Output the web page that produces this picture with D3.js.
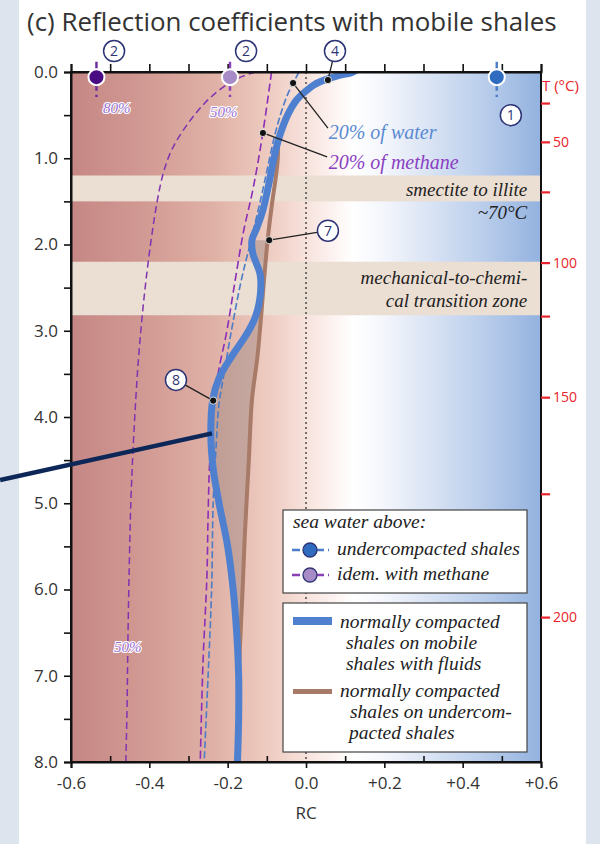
<!DOCTYPE html>
<html>
<head>
<meta charset="utf-8">
<script src="https://cdn.jsdelivr.net/npm/d3@7"></script>
<style>
  body { margin: 0; background: #fff; }
  .sans { font-family: "Open Sans", sans-serif; }
  .ital { font-family: "Liberation Serif", serif; font-style: italic; }
</style>
</head>
<body>
<div id="chart"></div>
<script>
// depth (km) / reflection coefficient
const blueDepth = [-0.1, 0, 0.04, 0.08, 0.15, 0.22, 0.33, 0.5, 0.75, 1.0, 1.3, 1.6, 1.8, 1.95, 2.1, 2.35, 2.6, 2.85, 3.05, 3.3, 3.55, 3.8, 4.2, 4.6, 5.0, 5.5, 6.0, 6.5, 7.0, 7.5, 8.0]
const blueRC = [0.15, 0.12, 0.085, 0.055, 0.02, 0.0, -0.025, -0.047, -0.068, -0.082, -0.095, -0.11, -0.125, -0.138, -0.136, -0.117, -0.117, -0.13, -0.153, -0.19, -0.222, -0.238, -0.243, -0.237, -0.222, -0.2, -0.186, -0.177, -0.172, -0.172, -0.175]

const brownDepth = [0.8, 1.0, 1.25, 1.5, 1.95, 2.4, 2.8, 3.3, 3.8, 4.5, 5.35, 5.9, 6.5, 6.9]
const brownRC = [-0.072, -0.072, -0.078, -0.086, -0.098, -0.107, -0.114, -0.124, -0.138, -0.146, -0.156, -0.161, -0.167, -0.171]

// undercompacted shales, sea water above (20% of water)
const waterDepth = [0, 0.13, 0.25, 0.45, 0.7, 1.0, 1.3, 1.6, 2.0, 2.41, 2.99, 3.57, 3.84, 4.38, 5.0, 6.0, 7.0, 8.0]
const waterRC = [-0.018, -0.033, -0.046, -0.062, -0.078, -0.093, -0.107, -0.122, -0.143, -0.165, -0.19, -0.212, -0.222, -0.23, -0.237, -0.241, -0.25, -0.26]

// idem with methane (20% of methane)
const methaneDepth = [0, 0.7, 1.35, 1.86, 2.42, 3.0, 3.57, 4.45, 5.15, 5.85, 6.85, 8.0]
const methaneRC = [-0.088, -0.11, -0.135, -0.16, -0.181, -0.202, -0.227, -0.245, -0.25, -0.253, -0.263, -0.27]

// idem with methane, 50%
const meth50Depth = [0, 0.1, 0.3, 0.5, 0.7, 0.85, 1.0, 1.2, 1.5, 2.0, 2.64, 3.34, 4.15, 4.96, 5.89, 6.7, 7.4, 8.0]
const meth50RC = [-0.13, -0.186, -0.245, -0.285, -0.317, -0.337, -0.352, -0.366, -0.38, -0.397, -0.414, -0.428, -0.439, -0.447, -0.452, -0.455, -0.457, -0.46]

// sea-floor values (top markers)
const topMarkRC = [-0.535, -0.194, 0.487]
const topMarkFill = ["#4a0c82", "#a78bc6", "#2f6cbf"]
const topMarkDash = ["#6b2a9c", "#8a3fb8", "#4a7cc8"]

// transition bands
const bandTop = [1.2, 2.2]
const bandBottom = [1.5, 2.82]

// temperature axis (°C) and depth of its ticks
const tempTicks = [25, 50, 75, 100, 125, 150, 175, 200]
const tempDepth = [0.36, 0.81, 1.39, 2.21, 2.83, 3.77, 4.89, 6.32]

const xTicks = [-0.6, -0.4, -0.2, 0, 0.2, 0.4, 0.6]
const xMinor = [-0.5, -0.3, -0.1, 0.1, 0.3, 0.5]

const W = 600, H = 844
const margin = { top: 72, right: 59, bottom: 82, left: 71 }
const width = W - margin.left - margin.right,
    height = H - margin.top - margin.bottom

const svg = d3.select("#chart").append("svg")
    .attr("width", W).attr("height", H)

// side strips of the page
svg.append("rect").attr("x", 0).attr("y", 0).attr("width", 19).attr("height", H).attr("fill", "#dde4ee")
svg.append("rect").attr("x", 586).attr("y", 0).attr("width", 14).attr("height", H).attr("fill", "#dde4ee")

const x = d3.scaleLinear().domain([-0.6, 0.6]).range([margin.left, margin.left + width])
const y = d3.scaleLinear().domain([0, 8]).range([margin.top, margin.top + height])

const defs = svg.append("defs")
const grad = defs.append("linearGradient").attr("id", "bg").attr("x1", 0).attr("x2", 1).attr("y1", 0).attr("y2", 0)
const stops = [[0, "#c68784"], [0.15, "#d19993"], [0.3, "#dfb0a5"], [0.42, "#eecbc0"], [0.52, "#f9e8e3"], [0.6, "#ffffff"], [0.66, "#f5f7fc"], [0.76, "#dae4f4"], [0.88, "#b9cdeb"], [1, "#93b2df"]]
stops.forEach(s => grad.append("stop").attr("offset", s[0]).attr("stop-color", s[1]))

defs.append("clipPath").attr("id", "plot")
    .append("rect").attr("x", margin.left).attr("y", margin.top).attr("width", width).attr("height", height)

// title
const title = svg.append("text").attr("class", "sans")
    .attr("x", 27).attr("y", 31)
    .attr("font-size", 24).attr("fill", "#333")
    .text("(c) Reflection coefficients with mobile shales")
const tl = title.node().getComputedTextLength()
title.attr("font-size", 24 * 530 / tl)

// background
svg.append("rect").attr("x", margin.left).attr("y", margin.top)
    .attr("width", width).attr("height", height).attr("fill", "url(#bg)")

svg.selectAll(".band").data(bandTop).join("rect")
    .attr("x", margin.left).attr("width", width)
    .attr("y", d => y(d))
    .attr("height", (d, i) => y(bandBottom[i]) - y(d))
    .attr("fill", "#ebded2")

// zero line
svg.append("line")
    .attr("x1", x(0)).attr("x2", x(0)).attr("y1", y(0)).attr("y2", y(8))
    .attr("stroke", "#333").attr("stroke-width", 1.3).attr("stroke-dasharray", "2,3")

const pts = (ds, rs) => ds.map((d, i) => ({ depth: d, rc: rs[i] }))
const line = d3.line().x(d => x(d.rc)).y(d => y(d.depth)).curve(d3.curveCatmullRom.alpha(0.5))

const plot = svg.append("g").attr("clip-path", "url(#plot)")

// shaded area between the two normally compacted curves
const brownPts = pts(brownDepth, brownRC).filter(d => d.depth >= 1.95)
const bluePts = pts(blueDepth, blueRC)
const blueBack = bluePts.filter(d => d.depth >= 1.95 && d.depth <= 6.9).reverse()
plot.append("path")
    .attr("d", line(brownPts) + line(blueBack).replace("M", "L") + "Z")
    .attr("fill", "#9a8580").attr("fill-opacity", 0.45)

plot.append("path").attr("d", line(pts(meth50Depth, meth50RC)))
    .attr("fill", "none").attr("stroke", "#8233b0").attr("stroke-width", 1.5).attr("stroke-dasharray", "7,4")

plot.append("path").attr("d", line(pts(methaneDepth, methaneRC)))
    .attr("fill", "none").attr("stroke", "#8a2fb6").attr("stroke-width", 1.6).attr("stroke-dasharray", "8,4")

plot.append("path").attr("d", line(pts(waterDepth, waterRC)))
    .attr("fill", "none").attr("stroke", "#4a7cc8").attr("stroke-width", 1.6).attr("stroke-dasharray", "7,3")

plot.append("path").attr("d", line(pts(brownDepth, brownRC)))
    .attr("fill", "none").attr("stroke", "#a87a68").attr("stroke-width", 4)

plot.append("path").attr("d", line(bluePts))
    .attr("fill", "none").attr("stroke", "#4f80cf").attr("stroke-width", 7).attr("stroke-linecap", "round")

// band labels
const bandText = [
    { t: "smectite to illite", depth: 1.44 },
    { t: "~70°C", depth: 1.71 },
    { t: "mechanical-to-chemi-", depth: 2.455 },
    { t: "cal transition zone", depth: 2.72 }
]
svg.selectAll(".bandText").data(bandText).join("text")
    .attr("class", "ital")
    .attr("x", x(0.565)).attr("y", d => y(d.depth))
    .attr("text-anchor", "end").attr("font-size", 19).attr("fill", "#222")
    .text(d => d.t)

// pointer lines with dots
const pointers = [
    { from: [0.074, -0.243], to: [0.056, 0.093] },
    { from: [0.056, 0.65], to: [-0.033, 0.128] },
    { from: [0.054, 0.985], to: [-0.11, 0.707] },
    { from: [0.056, 1.84], to: [-0.094, 1.95] },
    { from: [-0.332, 3.57], to: [-0.237, 3.81] }
]
svg.selectAll(".ptr").data(pointers).join("line")
    .attr("x1", d => x(d.from[0])).attr("y1", d => y(d.from[1]))
    .attr("x2", d => x(d.to[0])).attr("y2", d => y(d.to[1]))
    .attr("stroke", "#222").attr("stroke-width", 1.3)
svg.selectAll(".ptrDot").data(pointers).join("circle")
    .attr("cx", d => x(d.to[0])).attr("cy", d => y(d.to[1])).attr("r", 3.6)
    .attr("fill", "#111").attr("stroke", "#fff").attr("stroke-width", 0.8)

svg.append("text").attr("class", "ital").attr("x", x(0.058)).attr("y", y(0.78))
    .attr("font-size", 20).attr("fill", "#5a8ad2").text("20% of water")
svg.append("text").attr("class", "ital").attr("x", x(0.058)).attr("y", y(1.125))
    .attr("font-size", 20).attr("fill", "#8a3fc2").text("20% of methane")

// percent labels
const pctLabels = [
    { t: "80%", rc: -0.518, depth: 0.475 },
    { t: "50%", rc: -0.245, depth: 0.52 },
    { t: "50%", rc: -0.49, depth: 6.72 }
]
svg.selectAll(".pct").data(pctLabels).join("text")
    .attr("class", "ital")
    .attr("x", d => x(d.rc)).attr("y", d => y(d.depth))
    .attr("font-size", 15).attr("fill", "#9a72d6")
    .attr("stroke", "#fff").attr("stroke-width", 2.2).attr("paint-order", "stroke")
    .text(d => d.t)

// legends
const leg = svg.append("g")
leg.append("rect").attr("x", 283).attr("y", 510).attr("width", 244).attr("height", 83)
    .attr("fill", "#fff").attr("stroke", "#444").attr("stroke-width", 1.2)
leg.append("rect").attr("x", 283).attr("y", 603).attr("width", 244).attr("height", 149)
    .attr("fill", "#fff").attr("stroke", "#444").attr("stroke-width", 1.2)

leg.append("text").attr("class", "ital").attr("x", 293).attr("y", 528)
    .attr("font-size", 19.5).attr("fill", "#222").text("sea water above:")
const legItems = [
    { t: "undercompacted shales", fill: topMarkFill[2], stroke: topMarkDash[2], cy: 550 },
    { t: "idem. with methane", fill: topMarkFill[1], stroke: topMarkDash[1], cy: 575 }
]
legItems.forEach(d => {
    leg.append("line").attr("x1", 292).attr("x2", 329).attr("y1", d.cy).attr("y2", d.cy)
        .attr("stroke", d.stroke).attr("stroke-width", 2.5).attr("stroke-dasharray", "8,4")
    leg.append("circle").attr("cx", 310).attr("cy", d.cy).attr("r", 7)
        .attr("fill", d.fill).attr("stroke", "#2d3475").attr("stroke-width", 1.3)
    leg.append("text").attr("class", "ital").attr("x", 337).attr("y", d.cy + 5)
        .attr("font-size", 19.5).attr("fill", "#222").text(d.t)
})

leg.append("rect").attr("x", 293).attr("y", 617).attr("width", 39).attr("height", 8).attr("fill", "#4f80cf")
leg.append("rect").attr("x", 293).attr("y", 689).attr("width", 39).attr("height", 5).attr("fill", "#a87a68")
const legLines = [
    { t: "normally compacted", x: 340, y: 628 },
    { t: "shales on mobile", x: 346, y: 649 },
    { t: "shales with fluids", x: 346, y: 670 },
    { t: "normally compacted", x: 340, y: 697 },
    { t: "shales on undercom-", x: 350, y: 718 },
    { t: "pacted shales", x: 349, y: 739 }
]
leg.selectAll(".ll").data(legLines).join("text")
    .attr("class", "ital").attr("x", d => d.x).attr("y", d => d.y)
    .attr("font-size", 19.5).attr("fill", "#222").text(d => d.t)

// axes
const axLeft = svg.append("g").attr("class", "sans")
    .attr("transform", "translate(" + margin.left + ",0)")
    .call(d3.axisLeft(y).tickValues(d3.range(0, 8.001, 0.5)).tickSize(7).tickPadding(6)
        .tickFormat(d => Number.isInteger(d) ? d.toFixed(1) : ""))
axLeft.selectAll("text").attr("font-size", 17).attr("fill", "#333").attr("font-family", "Open Sans")

svg.append("g").attr("transform", "translate(0," + margin.top + ")")
    .call(d3.axisTop(x).tickValues(d3.range(-0.6, 0.601, 0.1)).tickSize(8).tickFormat(""))

const fmt = d => {
    const s = d3.format(".1f")(d).replace("−", "-")
    return d > 0 ? "+" + s : s
}
const axBottom = svg.append("g")
    .attr("transform", "translate(0," + (margin.top + height) + ")")
    .call(d3.axisBottom(x).tickValues(xTicks).tickSize(6).tickPadding(9).tickFormat(fmt))
axBottom.selectAll("text").attr("font-size", 17).attr("fill", "#333").attr("font-family", "Open Sans")

svg.append("g")
    .attr("transform", "translate(0," + (margin.top + height) + ")")
    .call(d3.axisTop(x).tickValues(xMinor).tickSize(6).tickFormat(""))
    .call(g => g.select(".domain").remove())

// frame
svg.append("rect").attr("x", margin.left).attr("y", margin.top)
    .attr("width", width).attr("height", height)
    .attr("fill", "none").attr("stroke", "#111").attr("stroke-width", 2)
svg.selectAll(".tick line").attr("stroke", "#111").attr("stroke-width", 1.6)
svg.selectAll(".domain").attr("stroke", "#111").attr("stroke-width", 2)

// temperature axis on the right
const tScale = d3.scaleLinear().domain(tempTicks).range(tempDepth.map(d => y(d)))
const axT = svg.append("g")
    .attr("transform", "translate(" + (margin.left + width) + ",0)")
    .call(d3.axisRight(tScale).tickValues(tempTicks).tickSize(9).tickPadding(3)
        .tickFormat(d => d % 50 === 0 ? d : ""))
    .call(g => g.select(".domain").remove())
axT.selectAll("line").attr("stroke", "#e8232b").attr("stroke-width", 2.2)
axT.selectAll("text").attr("font-size", 14).attr("fill", "#e8232b").attr("font-family", "Open Sans")

svg.append("text").attr("class", "sans").attr("x", 542).attr("y", 91)
    .attr("font-size", 15).attr("fill", "#e8232b").text("T (°C)")

svg.append("text").attr("class", "sans").attr("x", x(0)).attr("y", 819)
    .attr("text-anchor", "middle").attr("font-size", 17).attr("fill", "#333").text("RC")

// sea-floor markers
topMarkRC.forEach((r, i) => {
    svg.append("line").attr("x1", x(r)).attr("x2", x(r)).attr("y1", y(-0.12)).attr("y2", y(0.29))
        .attr("stroke", topMarkDash[i]).attr("stroke-width", 2.4).attr("stroke-dasharray", "7,4")
    svg.append("circle").attr("cx", x(r)).attr("cy", y(0.06)).attr("r", 8)
        .attr("fill", topMarkFill[i]).attr("stroke", "#fff").attr("stroke-width", 2)
})

// numbered circles
const numbered = [
    { n: "2", rc: -0.49, depth: -0.243 },
    { n: "2", rc: -0.153, depth: -0.243 },
    { n: "4", rc: 0.074, depth: -0.243 },
    { n: "1", rc: 0.523, depth: 0.5 },
    { n: "7", rc: 0.056, depth: 1.84 },
    { n: "8", rc: -0.332, depth: 3.57 }
]
const nums = svg.selectAll(".num").data(numbered).join("g")
    .attr("transform", d => "translate(" + x(d.rc) + "," + y(d.depth) + ")")
nums.append("circle").attr("r", 10.5).attr("fill", "#fff").attr("stroke", "#2d3475").attr("stroke-width", 1.5)
nums.append("text").attr("class", "sans").attr("text-anchor", "middle").attr("dy", "0.36em")
    .attr("font-size", 14).attr("fill", "#2d3475").text(d => d.n)

// dark pointer from the left margin
svg.append("line")
    .attr("x1", x(-0.781)).attr("y1", y(4.73))
    .attr("x2", x(-0.24)).attr("y2", y(4.19))
    .attr("stroke", "#0c2758").attr("stroke-width", 4.5)
</script>
</body>
</html>
